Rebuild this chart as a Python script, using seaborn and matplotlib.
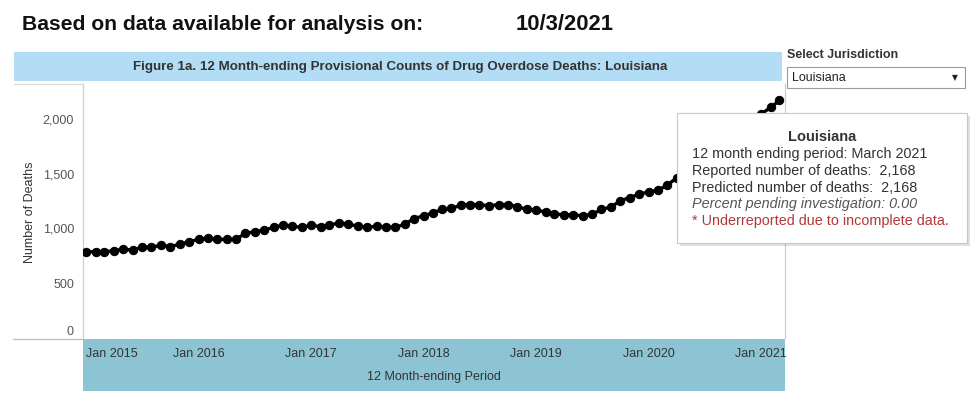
import numpy as np
import pandas as pd
import matplotlib
matplotlib.use("Agg")
import matplotlib.pyplot as plt
import matplotlib.dates as mdates
from matplotlib.patches import Rectangle
from matplotlib.ticker import FixedLocator, FuncFormatter
import seaborn as sns

# ---------------- data ----------------
months = pd.date_range("2015-01-01", "2021-03-01", freq="MS")
deaths = [
    787, 787, 787, 796, 809, 803, 827, 827, 848, 833, 857, 878,      # 2015
    900, 909, 900, 900, 900, 955, 969, 985, 1009, 1030, 1021, 1009,  # 2016
    1030, 1015, 1030, 1051, 1039, 1021, 1009, 1021, 1009, 1009, 1040, 1090,  # 2017
    1115, 1142, 1173, 1182, 1212, 1218, 1218, 1205, 1218, 1218, 1200, 1173,  # 2018
    1166, 1151, 1133, 1124, 1124, 1115, 1128, 1173, 1196, 1251, 1282, 1312,  # 2019
    1333, 1348, 1394, 1460, 1530, 1600, 1680, 1750, 1820, 1880, 1940, 1990,  # 2020
    2045, 2105, 2168,                                                # 2021
]
year_ticks = pd.date_range("2015-01-01", "2021-01-01", freq="YS")
year_labels = [f"Jan {d.year}" for d in year_ticks]
y_ticks = [0, 500, 1000, 1500, 2000]

df = pd.DataFrame({"period": months, "deaths": deaths})

# ---------------- figure ----------------
sns.set_theme(style="white")
plt.rcParams["font.family"] = ["Liberation Sans", "DejaVu Sans"]

W, H = 980, 398
fig = plt.figure(figsize=(W / 100, H / 100), dpi=100)
fig.patch.set_facecolor("white")


def fx(px):
    return px / W


def fy(py):
    return 1 - py / H


def rect(x0, y0, x1, y1, **kw):
    r = Rectangle((fx(x0), fy(y1)), fx(x1) - fx(x0), fy(y0) - fy(y1),
                  transform=fig.transFigure, **kw)
    fig.patches.append(r)
    return r


# header
fig.text(fx(22), fy(24), "Based on data available for analysis on:",
         fontsize=15.2, fontweight="bold", color="#111111", va="center", ha="left")
fig.text(fx(516), fy(24), "10/3/2021", fontsize=15.8, fontweight="bold",
         color="#111111", va="center", ha="left")

# title band
rect(14, 52, 782, 81, facecolor="#B3DCF5", edgecolor="none", zorder=-1)
fig.text(fx(400), fy(67),
         "Figure 1a. 12 Month-ending Provisional Counts of Drug Overdose Deaths: Louisiana",
         fontsize=9.6, fontweight="bold", color="#333333", ha="center", va="center")

# jurisdiction selector
fig.text(fx(787), fy(55), "Select Jurisdiction", fontsize=9, fontweight="bold",
         color="#333333", ha="left", va="center")
rect(787, 67, 965, 88, facecolor="white", edgecolor="#9a9a9a", linewidth=0.8, zorder=2)
fig.text(fx(792), fy(78), "Louisiana", fontsize=9, color="#222222",
         ha="left", va="center", zorder=3)
fig.text(fx(955), fy(77.5), "\u25BC", fontsize=5.5, color="#222222",
         ha="center", va="center", zorder=3, family=["DejaVu Sans"])

# bottom band
rect(83, 339, 785, 391, facecolor="#8DC4D3", edgecolor="none", zorder=-1)
fig.text(fx(434), fy(377), "12 Month-ending Period", fontsize=9, color="#333333",
         ha="center", va="center")

# top separator and bottom baseline
fig.add_artist(plt.Line2D([fx(14), fx(785)], [fy(84), fy(84)], color="#d8d8d8",
                          linewidth=0.8, transform=fig.transFigure, zorder=-1))
fig.add_artist(plt.Line2D([fx(13), fx(83)], [fy(338.5), fy(338.5)], color="#bdbdbd",
                          linewidth=0.9, transform=fig.transFigure, zorder=-1))

# main axes
ax = fig.add_axes([fx(83), fy(338), fx(785) - fx(83), fy(84) - fy(338)])
ax.set_facecolor("white")
sns.lineplot(data=df, x="period", y="deaths", ax=ax, color="black",
             linewidth=2.4, marker="o", markersize=6.0, markeredgecolor="black",
             markerfacecolor="black", zorder=3)

ax.set_ylim(0, 2318)
x0 = mdates.date2num(pd.Timestamp("2015-01-01")) - 10
x1 = mdates.date2num(pd.Timestamp("2021-03-01")) + 18
ax.set_xlim(x0, x1)

ax.yaxis.set_major_locator(FixedLocator(y_ticks))
ax.yaxis.set_major_formatter(FuncFormatter(lambda v, p: f"{int(v):,}"))
ax.tick_params(axis="y", length=0, pad=6.5, labelsize=9, labelcolor="#555555")

ax.xaxis.set_major_locator(FixedLocator(mdates.date2num(year_ticks)))
ax.xaxis.set_minor_locator(FixedLocator(mdates.date2num(months)))
ax.set_xticklabels(year_labels)
ax.tick_params(axis="x", which="major", direction="out", length=4, width=1,
               color="#444444", pad=3.5, labelsize=9, labelcolor="#333333")
ax.tick_params(axis="x", which="minor", direction="out", length=2, width=0.8,
               color="#555555")
ax.set_xlabel("")
ax.set_ylabel("Number of Deaths", fontsize=9, color="#333333")
ax.yaxis.set_label_coords(-(83 - 36) / (785 - 83), (338 - 212) / (338 - 84))

for side in ["top", "bottom"]:
    ax.spines[side].set_visible(False)
for side in ["left", "right"]:
    ax.spines[side].set_color("#cfcfcf")
    ax.spines[side].set_linewidth(0.9)
ax.grid(False)

# first x label: keep inside band
lbl0 = ax.get_xticklabels()[0]
lbl0.set_horizontalalignment("left")
# zero label nudged up
ax.get_yticklabels()[0].set_verticalalignment("bottom")

# tooltip
rect(680, 116, 970, 246, facecolor="#000000", alpha=0.12, edgecolor="none", zorder=5)
rect(677, 113, 967, 243, facecolor="white", edgecolor="#c8c8c8", linewidth=0.8, zorder=6)
fig.text(fx(822), fy(137), "Louisiana", fontsize=10.5, fontweight="bold",
         color="#333333", ha="center", va="center", zorder=7)
tip_lines = [
    ("12 month ending period: March 2021", "#333333", "normal"),
    ("Reported number of deaths:  2,168", "#333333", "normal"),
    ("Predicted number of deaths:  2,168", "#333333", "normal"),
    ("Percent pending investigation: 0.00", "#555555", "italic"),
    ("* Underreported due to incomplete data.", "#B03A3A", "normal"),
]
for i, (t, c, st) in enumerate(tip_lines):
    fig.text(fx(692), fy(154 + i * 16.8), t, fontsize=10.4, color=c, style=st,
             ha="left", va="center", zorder=7)

fig.savefig("out.png", dpi=100, facecolor="white")
